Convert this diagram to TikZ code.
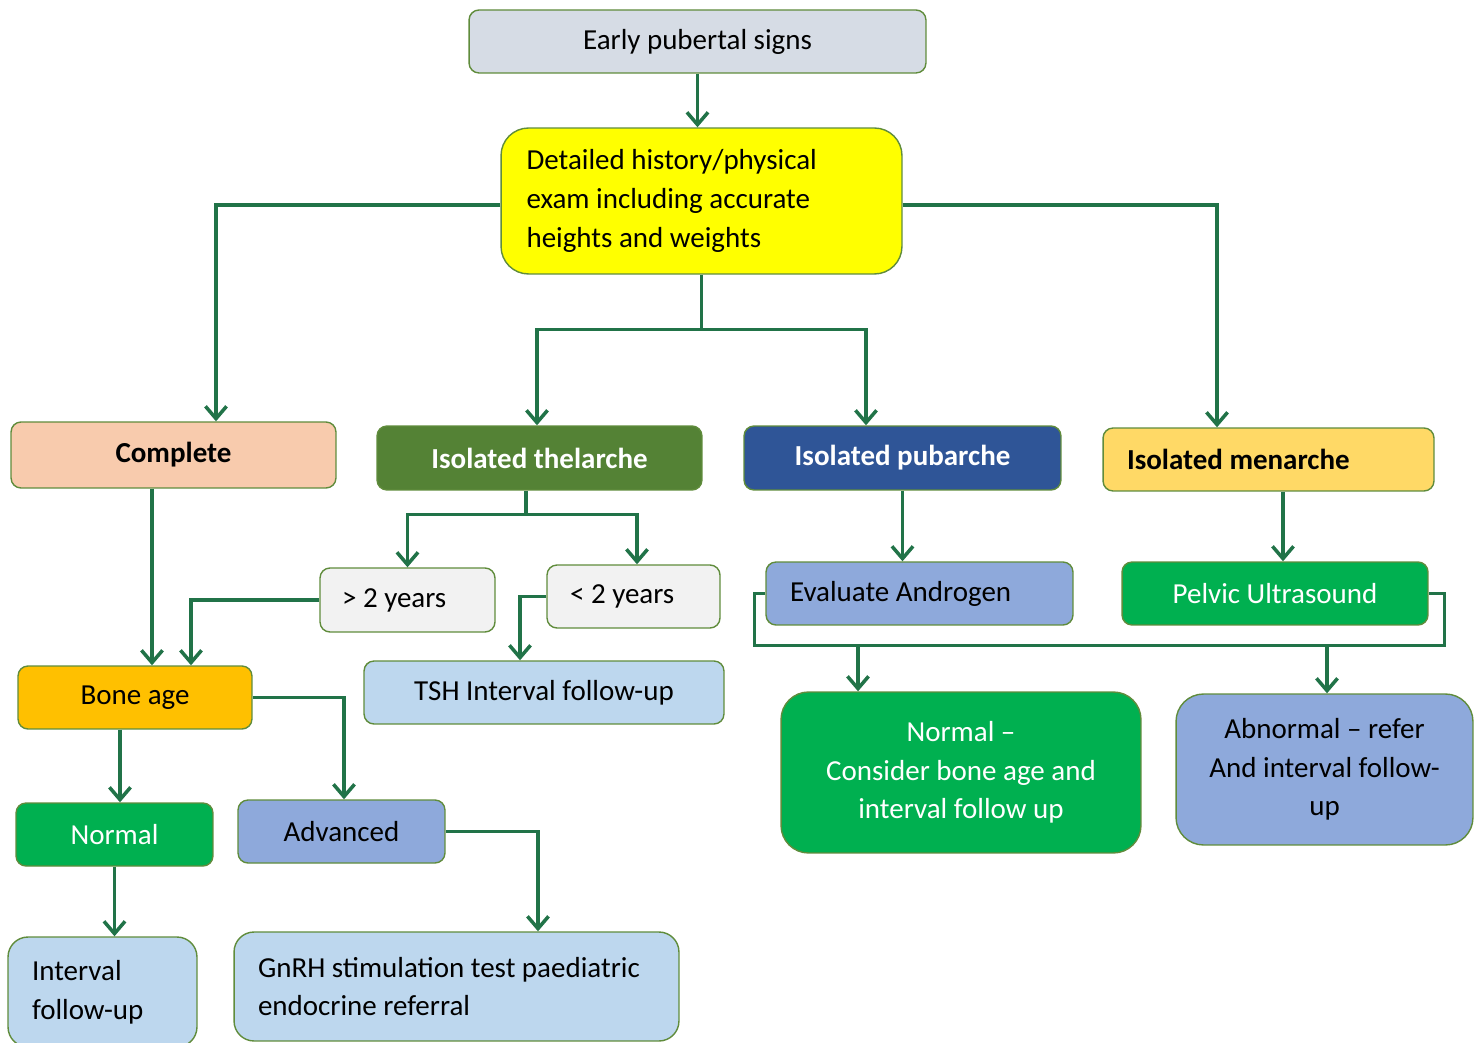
\documentclass[tikz,border=0pt]{standalone}
\usepackage{fontspec}
\setmainfont{Carlito}
\usetikzlibrary{arrows.meta}

\definecolor{cline}{RGB}{33,115,72}
\definecolor{cborder}{RGB}{96,140,60}
\definecolor{cgrey}{RGB}{214,220,229}
\definecolor{cyellow}{RGB}{255,255,0}
\definecolor{cpeach}{RGB}{248,203,173}
\definecolor{colive}{RGB}{84,130,53}
\definecolor{cnavy}{RGB}{47,85,151}
\definecolor{cgold}{RGB}{255,217,102}
\definecolor{cpale}{RGB}{242,242,242}
\definecolor{cviolet}{RGB}{142,169,219}
\definecolor{cgreen}{RGB}{0,176,80}
\definecolor{corange}{RGB}{255,192,0}
\definecolor{csky}{RGB}{189,215,238}

\begin{document}
\begin{tikzpicture}[x=0.02cm,y=-0.02cm,
        box/.style={draw=cborder,line width=0.8pt,rounded corners=0.2cm,
                    inner sep=0pt,font=\fontsize{16.5}{22}\selectfont,
                    execute at begin node={\spaceskip=0pt\xspaceskip=0pt}},
        big/.style={box,rounded corners=0.55cm},
        head/.style={box,font=\fontsize{16.5}{22}\selectfont\bfseries},
        line/.style={draw=cline,line width=2pt},
        flow/.style={line,-{Straight Barb[length=7pt,width=12pt]}}]

      \useasboundingbox (0,0) rectangle (1483,1043);

      % top of the tree
      \node[box,fill=cgrey,minimum width=9.14cm,minimum height=1.26cm]
        (early) at (697.5,41.5) {Early pubertal signs};
      \node[big,fill=cyellow,minimum width=8.02cm,minimum height=2.92cm,
            text width=7cm,align=left]
        (detail) at (701.5,201) {Detailed history/physical\\exam including accurate\\heights and weights};

      % the four presentations
      \node[head,fill=cpeach,minimum width=6.5cm,minimum height=1.32cm]
        (complete) at (173.5,455) {Complete};
      \node[head,fill=colive,text=white,minimum width=6.5cm,minimum height=1.28cm]
        (thel) at (539.5,458) {Isolated thelarche};
      \node[head,fill=cnavy,text=white,minimum width=6.34cm,minimum height=1.28cm]
        (pub) at (902.5,458) {Isolated pubarche};
      \node[head,fill=cgold,minimum width=6.62cm,minimum height=1.26cm,
            text width=5.66cm,align=left]
        (men) at (1268.5,459.5) {Isolated menarche};

      % second row
      \node[box,fill=cpale,minimum width=3.5cm,minimum height=1.28cm,
            text width=2.62cm,align=left]
        (gt2) at (407.5,600) {> 2 years};
      \node[box,fill=cpale,minimum width=3.46cm,minimum height=1.26cm,
            text width=2.54cm,align=left]
        (lt2) at (633.5,596.5) {< 2 years};
      \node[box,fill=cviolet,minimum width=6.14cm,minimum height=1.26cm,
            text width=5.18cm,align=left]
        (evalA) at (919.5,593.5) {Evaluate Androgen};
      \node[box,fill=cgreen,text=white,minimum width=6.12cm,minimum height=1.26cm]
        (pelvic) at (1275,593.5) {Pelvic Ultrasound};

      % third row
      \node[box,fill=corange,minimum width=4.68cm,minimum height=1.26cm]
        (bone) at (135,697.5) {Bone age};
      \node[box,fill=csky,minimum width=7.2cm,minimum height=1.26cm]
        (tsh) at (544,692.5) {TSH Interval follow-up};
      \node[big,fill=cgreen,text=white,minimum width=7.2cm,minimum height=3.22cm,
            align=center]
        (normA) at (961,772.5) {Normal --\\Consider bone age and\\interval follow up};
      \node[big,fill=cviolet,minimum width=5.94cm,minimum height=3.02cm,
            align=center]
        (abn) at (1324.5,769.5) {Abnormal -- refer\\And interval follow-\\up};

      % bone age outcomes
      \node[box,fill=cgreen,text=white,minimum width=3.94cm,minimum height=1.26cm]
        (normal) at (114.5,834.5) {Normal};
      \node[box,fill=cviolet,minimum width=4.14cm,minimum height=1.26cm]
        (adv) at (341.5,831.5) {Advanced};
      \node[box,fill=csky,rounded corners=0.4cm,minimum width=3.78cm,minimum height=2.2cm,
            text width=2.82cm,align=left]
        (intfu) at (102.5,992) {Interval\\follow-up};
      \node[box,fill=csky,rounded corners=0.4cm,minimum width=8.9cm,minimum height=2.18cm,
            text width=7.94cm,align=left]
        (gnrh) at (456.5,986.5) {GnRH stimulation test paediatric\\endocrine referral};

      % connectors
      \draw[flow] (early.south) -- (early.south |- detail.north);
      \draw[flow] ([yshift=-0.08cm]detail.west) -| ([xshift=0.85cm]complete.north);
      \draw[flow] ([yshift=-0.08cm]detail.east) -| ([xshift=-1.03cm]men.north);
      \draw[line] (detail.south) -- ++(0,55) coordinate (dsplit);
      \draw[flow] (dsplit) -| ([xshift=-0.05cm]thel.north);
      \draw[flow] (dsplit) -| ([xshift=-0.73cm]pub.north);

      \draw[flow] ([xshift=-0.43cm]complete.south) -- ([xshift=-0.43cm]complete.south |- bone.north);
      \draw[line] ([xshift=-0.27cm]thel.south) -- ++(0,24) coordinate (tsplit);
      \draw[flow] (tsplit) -| (gt2.north);
      \draw[flow] (tsplit) -| ([xshift=0.07cm]lt2.north);
      \draw[flow] (gt2.west) -| ([xshift=1.12cm]bone.north);
      \draw[flow] (lt2.west) -| ([xshift=-0.48cm]tsh.north);

      \draw[flow] (pub.south) -- (pub.south |- evalA.north);
      \draw[flow] ([xshift=0.29cm]men.south) -- ([xshift=0.29cm]men.south |- pelvic.north);
      \coordinate (bus) at ([yshift=-0.4cm]evalA.south);
      \draw[line] (evalA.west) -| ([xshift=-0.22cm]evalA.west |- bus)
                  -| ([xshift=0.32cm]pelvic.east) -- (pelvic.east);
      \draw[flow] ([xshift=-2.06cm]normA.north |- bus) -- ([xshift=-2.06cm]normA.north);
      \draw[flow] ([xshift=0.05cm]abn.north |- bus) -- ([xshift=0.05cm]abn.north);

      \draw[flow] (bone.east) -| ([xshift=0.05cm]adv.north);
      \draw[flow] ([xshift=-0.3cm]bone.south) -- ([xshift=-0.3cm]bone.south |- normal.north);
      \draw[flow] (normal.south) -- (normal.south |- intfu.north);
      \draw[flow] (adv.east) -| ([xshift=1.63cm]gnrh.north);
    \end{tikzpicture}
\end{document}
